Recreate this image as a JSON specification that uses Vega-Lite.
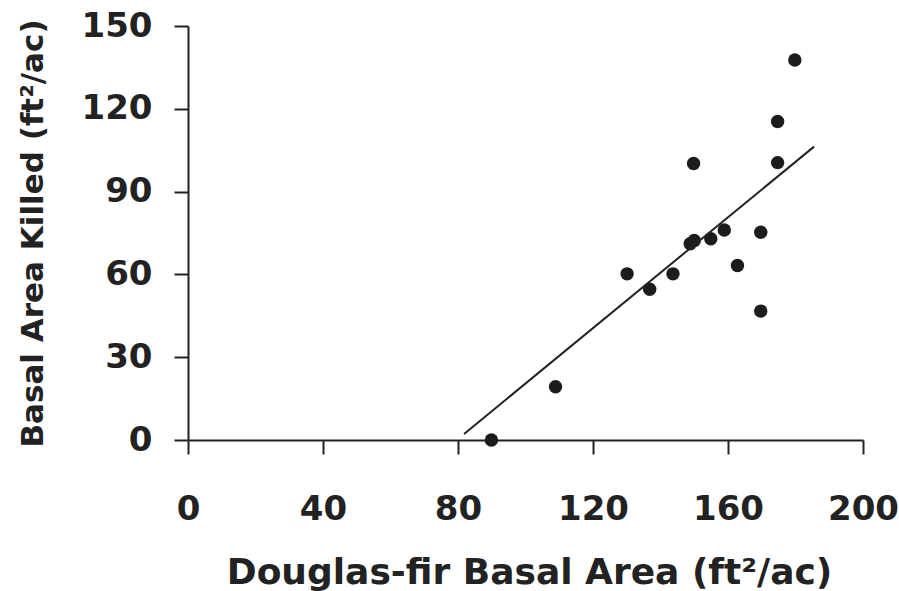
{
  "$schema": "https://vega.github.io/schema/vega-lite/v6.json",
  "width": 675,
  "height": 414,
  "autosize": "none",
  "padding": {"left": 188, "top": 26, "right": 36, "bottom": 151},
  "background": "white",
  "config": {
    "view": {"stroke": null},
    "axis": {
      "grid": false,
      "labelFlush": false,
      "labelOverlap": false,
      "domainColor": "#222222",
      "domainWidth": 2,
      "tickColor": "#222222",
      "tickWidth": 2,
      "tickSize": 14,
      "labelFont": "DejaVu Sans",
      "labelFontWeight": "bold",
      "labelFontSize": 34,
      "labelColor": "#222222",
      "titleFont": "DejaVu Sans",
      "titleFontWeight": "bold",
      "titleColor": "#222222"
    }
  },
  "layer": [
    {
      "data": {
        "values": [
          {"ba": 89.9, "killed": 0},
          {"ba": 108.9, "killed": 19.3},
          {"ba": 130.1, "killed": 60.2},
          {"ba": 136.8, "killed": 54.6},
          {"ba": 143.7, "killed": 60.2},
          {"ba": 148.8, "killed": 71.1},
          {"ba": 150.0, "killed": 72.3},
          {"ba": 149.8, "killed": 100.2},
          {"ba": 154.9, "killed": 72.9},
          {"ba": 158.9, "killed": 76.1},
          {"ba": 162.8, "killed": 63.2},
          {"ba": 169.7, "killed": 75.3},
          {"ba": 169.7, "killed": 46.7},
          {"ba": 174.7, "killed": 100.5},
          {"ba": 174.7, "killed": 115.4},
          {"ba": 179.8, "killed": 137.7}
        ]
      },
      "mark": {"type": "point", "filled": true, "size": 180, "color": "#1c1c1c", "opacity": 1},
      "encoding": {
        "x": {
          "field": "ba", "type": "quantitative",
          "scale": {"domain": [0, 200], "nice": false},
          "axis": {
            "values": [0, 40, 80, 120, 160, 200],
            "labelPadding": 38,
            "title": "Douglas-fir Basal Area (ft²/ac)",
            "titleFontSize": 36,
            "titleX": 341,
            "titleY": 143,
            "titleBaseline": "alphabetic",
            "titleAlign": "center"
          }
        },
        "y": {
          "field": "killed", "type": "quantitative",
          "scale": {"domain": [0, 150], "nice": false},
          "axis": {
            "values": [0, 30, 60, 90, 120, 150],
            "labelPadding": 22,
            "title": "Basal Area Killed (ft²/ac)",
            "titleFontSize": 31,
            "titleAngle": -90,
            "titleX": -146,
            "titleY": 207,
            "titleBaseline": "alphabetic",
            "titleAlign": "center"
          }
        }
      }
    },
    {
      "data": {
        "values": [
          {"ba": 81.8, "killed": 2.2},
          {"ba": 185.5, "killed": 106.3}
        ]
      },
      "mark": {"type": "line", "color": "#222222", "strokeWidth": 2},
      "encoding": {
        "x": {"field": "ba", "type": "quantitative"},
        "y": {"field": "killed", "type": "quantitative"}
      }
    }
  ]
}
